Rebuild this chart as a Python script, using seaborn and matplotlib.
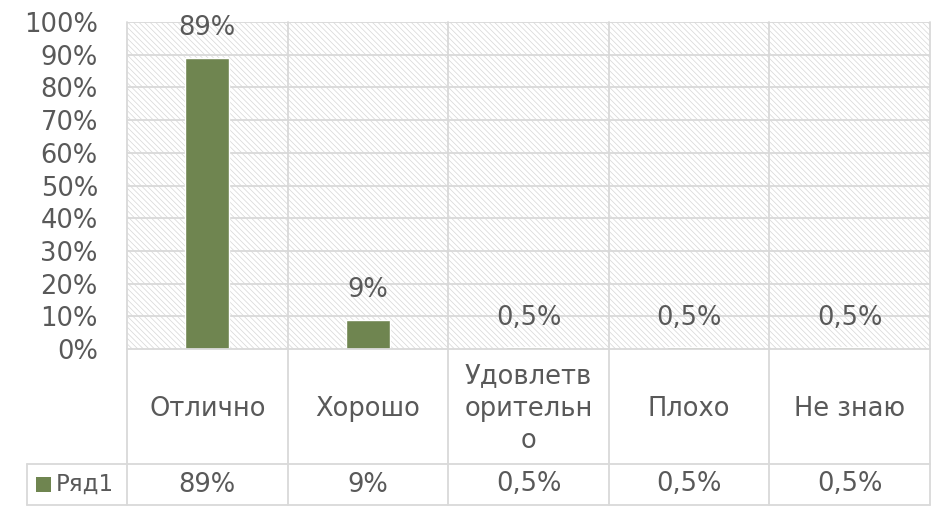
import matplotlib
matplotlib.use("Agg")
import matplotlib.pyplot as plt
import seaborn as sns
import pandas as pd
from matplotlib.patches import Rectangle
from matplotlib.lines import Line2D

# chart data
categories = ["Отлично", "Хорошо", "Удовлетв\nорительн\nо", "Плохо", "Не знаю"]
values = [0.89, 0.09, 0.005, 0.005, 0.005]
value_labels = ["89%", "9%", "0,5%", "0,5%", "0,5%"]
series_name = "Ряд1"
y_ticks = [0, 0.1, 0.2, 0.3, 0.4, 0.5, 0.6, 0.7, 0.8, 0.9, 1.0]

BAR = "#6f8550"
GRID = "#d9d9d9"
TEXT = "#595959"
FS = 18.5

sns.set_style("white")
plt.rcParams["font.family"] = ["DejaVu Sans"]
plt.rcParams["hatch.linewidth"] = 0.5
plt.rcParams["hatch.color"] = "#d6d6d6"

W, H = 947, 507
fig = plt.figure(figsize=(W / 100, H / 100), dpi=100)

def fx(px):
    return px / W

def fy(py):
    return 1 - py / H

# plot area in pixels
left, right, top, bottom = 127, 930, 22, 349
ax = fig.add_axes([fx(left), fy(bottom), fx(right - left), (bottom - top) / H])

df = pd.DataFrame({"cat": categories, "val": values})
sns.barplot(data=df, x="cat", y="val", color=BAR, width=0.275, saturation=1, ax=ax, zorder=3)

ax.set_xlim(-0.5, len(categories) - 0.5)
ax.set_ylim(0, 1)
ax.set_xlabel("")
ax.set_ylabel("")
ax.set_xticks([])
ax.set_yticks(y_ticks)
ax.set_yticklabels([f"{int(round(t * 100))}%" for t in y_ticks], fontsize=FS, color=TEXT)
ax.tick_params(axis="y", length=0, pad=21)
for s in ax.spines.values():
    s.set_visible(False)

# hatched plot background
ax.add_patch(Rectangle((0, 0), 1, 1, transform=ax.transAxes, facecolor="white",
                       edgecolor="#d6d6d6", hatch="\\\\\\\\\\\\", lw=0, zorder=0))

# gridlines
for t in y_ticks[1:]:
    ax.axhline(t, color=GRID, lw=1.3, zorder=1)

# data labels
ax.bar_label(ax.containers[0], labels=value_labels, fontsize=FS, color=TEXT, padding=12)

# data table below the plot
row1, row2 = 464, 505
tab_left = 27
cw = (right - left) / len(categories)
lines = [
    ((left, right), (bottom, bottom)),
    ((tab_left, right), (row1, row1)),
    ((tab_left, right), (row2, row2)),
    ((tab_left, tab_left), (row1, row2)),
]
for i in range(len(categories) + 1):
    x = left + i * cw
    lines.append(((x, x), (top, row2)))
for (xs, ys) in lines:
    fig.add_artist(Line2D([fx(xs[0]), fx(xs[1])], [fy(ys[0]), fy(ys[1])], color=GRID, lw=1.3))

for i, (cat, lab) in enumerate(zip(categories, value_labels)):
    cx = left + (i + 0.5) * cw
    fig.text(fx(cx), fy((bottom + row1) / 2 + 2), cat, ha="center", va="center",
             fontsize=FS, color=TEXT, linespacing=1.3)
    fig.text(fx(cx), fy((row1 + row2) / 2), lab, ha="center", va="center",
             fontsize=FS, color=TEXT)

# legend key in table
fig.add_artist(Rectangle((fx(36), fy(492)), fx(15), 15 / H, facecolor=BAR, edgecolor="none"))
fig.text(fx(56), fy((row1 + row2) / 2), series_name, ha="left", va="center",
         fontsize=16.5, color=TEXT)

fig.savefig("out.png", dpi=100)
